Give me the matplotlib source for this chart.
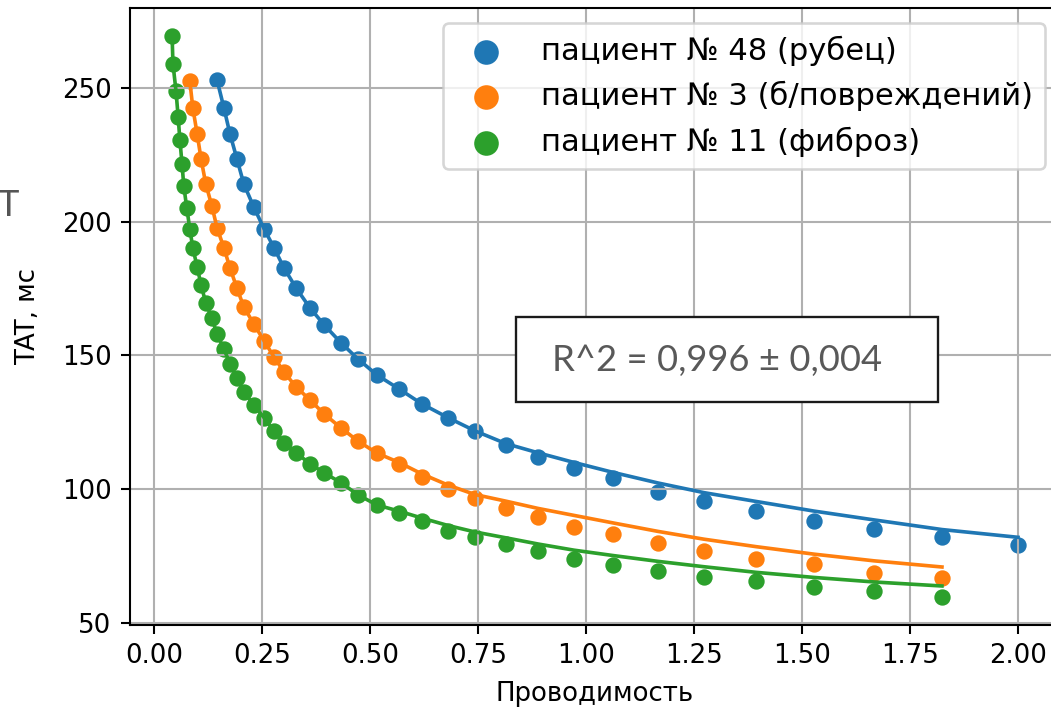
import numpy as np
import matplotlib.pyplot as plt
from matplotlib.patches import Rectangle

# shared conductivity grid
grid = [0.042, 0.044, 0.051, 0.056, 0.060, 0.065, 0.069, 0.076, 0.083, 0.090,
        0.100, 0.109, 0.120, 0.134, 0.146, 0.162, 0.176, 0.192, 0.208, 0.231,
        0.255, 0.278, 0.301, 0.329, 0.361, 0.394, 0.433, 0.472, 0.516, 0.567,
        0.620, 0.681, 0.743, 0.815, 0.889, 0.972, 1.062, 1.167, 1.273, 1.394,
        1.528, 1.667, 1.824, 2.000]

x_scar = grid[14:]
tat_scar = [253.0, 242.5, 232.8, 223.5, 214.1, 205.5, 197.3, 190.2, 182.7, 175.2,
            167.8, 161.4, 154.7, 148.7, 142.7, 137.5, 131.9, 126.7, 121.8, 116.5,
            112.0, 107.9, 104.2, 99.0, 95.6, 91.9, 88.1, 85.1, 82.1, 79.1]

x_healthy = grid[8:43]
tat_healthy = [252.6, 242.5, 232.8, 223.5, 214.1, 205.9, 197.7, 190.2, 182.7, 175.2,
               168.1, 161.8, 155.4, 149.4, 143.8, 138.2, 133.4, 128.1, 122.9, 118.0,
               113.5, 109.4, 104.6, 100.1, 96.7, 93.0, 89.6, 85.9, 83.3, 79.9,
               76.9, 73.9, 72.0, 68.7, 66.8]

x_fibrosis = grid[:43]
tat_fibrosis = [269.4, 259.0, 248.9, 239.2, 230.6, 221.6, 213.4, 205.1, 197.3, 190.2,
                183.1, 176.4, 169.6, 164.0, 158.0, 152.4, 146.8, 141.6, 136.4, 131.5,
                126.7, 121.8, 117.3, 113.6, 109.5, 106.1, 102.4, 97.9, 94.1, 91.1,
                88.1, 84.4, 82.1, 79.5, 76.9, 73.9, 71.7, 69.4, 67.2, 65.7,
                63.4, 61.9, 59.7]

# fitted curves as drawn: they run through the dots on the steep part
# and sit a little above them towards the tail
fit_scar = tat_scar[:19] + [117.0, 113.6, 110.0, 106.3, 102.3, 98.7, 95.4,
                            91.8, 88.5, 84.9, 82.0]
fit_healthy = tat_healthy[:21] + [110.0, 105.7, 101.5, 98.0, 95.5, 92.8, 90.2,
                                  87.4, 84.2, 81.3, 78.5, 75.7, 73.2, 70.9]
fit_fibrosis = tat_fibrosis[:29] + [91.8, 89.2, 86.4, 84.0, 81.8, 79.5, 77.2,
                                    75.2, 73.0, 71.0, 68.9, 67.0, 65.3, 63.8]

labels = ['пациент № 48 (рубец)', 'пациент № 3 (б/повреждений)', 'пациент № 11 (фиброз)']
r2_text = 'R^2 = 0,996 ± 0,004'

W, H, DPI = 1051, 708, 187
fig = plt.figure(figsize=(W / DPI, H / DPI), dpi=DPI)
ax = fig.add_axes([129.8 / W, (H - 625) / H, (1060.3 - 129.8) / W, (625 - 8) / H])

series = [(x_scar, tat_scar, fit_scar),
          (x_healthy, tat_healthy, fit_healthy),
          (x_fibrosis, tat_fibrosis, fit_fibrosis)]
for i, (xs, ys, fit) in enumerate(series):
    ax.scatter(xs, ys, s=28, color='C%d' % i, label=labels[i])
    ax.plot(xs, fit, color='C%d' % i, lw=1.4)

ax.grid(True)
ax.set_xlabel('Проводимость', labelpad=4.5)
ax.set_ylabel('TAT, мс', labelpad=8)
ax.legend(loc='upper right', fontsize=11.8, markerscale=1.6)

# pieces of the slide the chart sits on
fig.text(-2 / W, 1 - 205 / H, 'T', color='#555555', fontsize=14,
         family=['Lato', 'DejaVu Sans'], va='center', ha='left')
fig.patches.append(Rectangle((516 / W, 1 - 402 / H), (938 - 516) / W, (402 - 317) / H,
                             transform=fig.transFigure, facecolor='white',
                             edgecolor='#1a1a1a', linewidth=0.9, zorder=5))
fig.text(552 / W, 1 - 360 / H, r2_text, color='#595959', fontsize=14,
         family=['Lato', 'DejaVu Sans'], va='center', ha='left', zorder=6)

fig.savefig('out.png', dpi=DPI)
